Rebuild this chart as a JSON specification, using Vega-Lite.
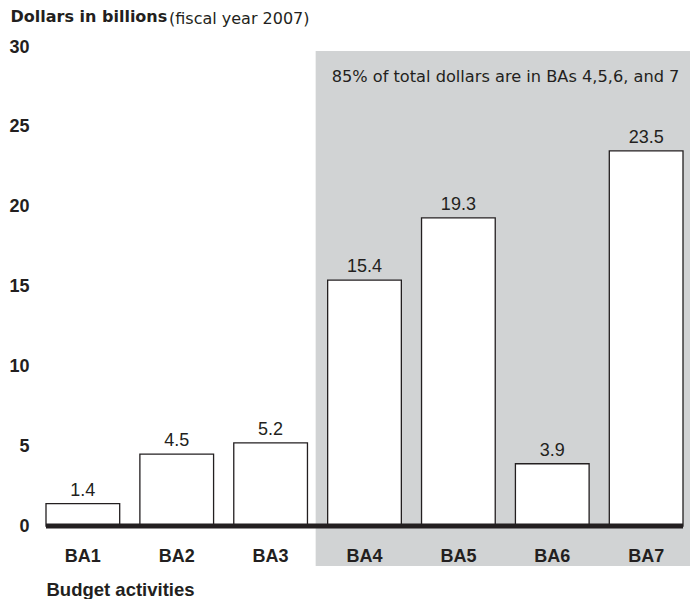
{
  "$schema": "https://vega.github.io/schema/vega-lite/v6.json",
  "width": 637,
  "height": 479,
  "autosize": "none",
  "padding": {"left": 46, "top": 47, "right": 7, "bottom": 73},
  "background": "white",
  "config": {"view": {"stroke": null}},
  "title": {
    "text": "(fiscal year 2007)",
    "anchor": "start",
    "frame": "group",
    "dx": 123,
    "dy": 19,
    "font": "DejaVu Sans",
    "fontSize": 16,
    "fontWeight": "normal",
    "color": "#231f20",
    "offset": 0
  },
  "datasets": {
    "bars": [
      {"activity": "BA1", "dollars": 1.4},
      {"activity": "BA2", "dollars": 4.5},
      {"activity": "BA3", "dollars": 5.2},
      {"activity": "BA4", "dollars": 15.4},
      {"activity": "BA5", "dollars": 19.3},
      {"activity": "BA6", "dollars": 3.9},
      {"activity": "BA7", "dollars": 23.5}
    ],
    "region": [
      {"start": "BA4", "end": "BA7", "note": "85% of total dollars are in BAs 4,5,6, and 7"}
    ]
  },
  "layer": [
    {
      "data": {"name": "region"},
      "mark": {"type": "rect", "color": "#d1d3d4", "xOffset": -12, "x2Offset": 20},
      "encoding": {
        "x": {
          "field": "start",
          "type": "nominal",
          "bandPosition": 0,
          "scale": {"domain": ["BA1", "BA2", "BA3", "BA4", "BA5", "BA6", "BA7"], "paddingInner": 0.215, "paddingOuter": 0},
          "axis": {
            "title": "Budget activities",
            "titleFont": "Liberation Sans",
            "titleFontSize": 18.5,
            "titleFontWeight": "bold",
            "titleColor": "#231f20",
            "titleAnchor": "start",
            "titleAlign": "left",
            "titleBaseline": "alphabetic",
            "titleX": 0,
            "titleY": 69,
            "labelAngle": 0,
            "labelFont": "Liberation Sans",
            "labelFontSize": 18,
            "labelFontWeight": "bold",
            "labelColor": "#231f20",
            "labelBaseline": "alphabetic",
            "labelPadding": 35,
            "ticks": false,
            "tickSize": 0,
            "domain": false,
            "grid": false,
            "zindex": 1
          }
        },
        "x2": {"field": "end", "bandPosition": 1},
        "y": {
          "datum": 29.75,
          "type": "quantitative",
          "scale": {"domain": [0, 30], "nice": false, "zero": true},
          "axis": {
            "title": "Dollars in billions",
            "titleFont": "DejaVu Sans",
            "titleFontSize": 16,
            "titleFontWeight": "bold",
            "titleColor": "#231f20",
            "titleAngle": 0,
            "titleAlign": "left",
            "titleBaseline": "alphabetic",
            "titleX": -36,
            "titleY": -26,
            "values": [0, 5, 10, 15, 20, 25, 30],
            "labelFont": "Liberation Sans",
            "labelFontSize": 18,
            "labelFontWeight": "bold",
            "labelColor": "#231f20",
            "labelAlign": "right",
            "labelBaseline": "middle",
            "labelPadding": 17,
            "ticks": false,
            "tickSize": 0,
            "domain": false,
            "grid": false,
            "zindex": 1
          }
        },
        "y2": {"datum": -2.5}
      }
    },
    {
      "data": {"name": "bars"},
      "mark": {"type": "bar", "fill": "white", "stroke": "#231f20", "strokeWidth": 1.3},
      "encoding": {
        "x": {"field": "activity", "type": "nominal"},
        "y": {"field": "dollars", "type": "quantitative"}
      }
    },
    {
      "data": {"name": "bars"},
      "mark": {"type": "text", "font": "Liberation Sans", "fontSize": 18, "color": "#231f20", "baseline": "alphabetic", "dy": -8},
      "encoding": {
        "x": {"field": "activity", "type": "nominal"},
        "y": {"field": "dollars", "type": "quantitative"},
        "text": {"field": "dollars", "type": "quantitative", "format": ".1f"}
      }
    },
    {
      "data": {"name": "region"},
      "mark": {"type": "rule", "color": "#231f20", "strokeWidth": 5, "strokeCap": "butt"},
      "encoding": {
        "y": {"datum": 0, "type": "quantitative"}
      }
    },
    {
      "data": {"name": "region"},
      "mark": {"type": "text", "font": "DejaVu Sans", "fontSize": 16.2, "color": "#231f20", "align": "left", "baseline": "alphabetic", "dx": 4},
      "encoding": {
        "x": {"field": "start", "type": "nominal", "bandPosition": 0},
        "y": {"datum": 27.8, "type": "quantitative"},
        "text": {"field": "note"}
      }
    }
  ]
}
